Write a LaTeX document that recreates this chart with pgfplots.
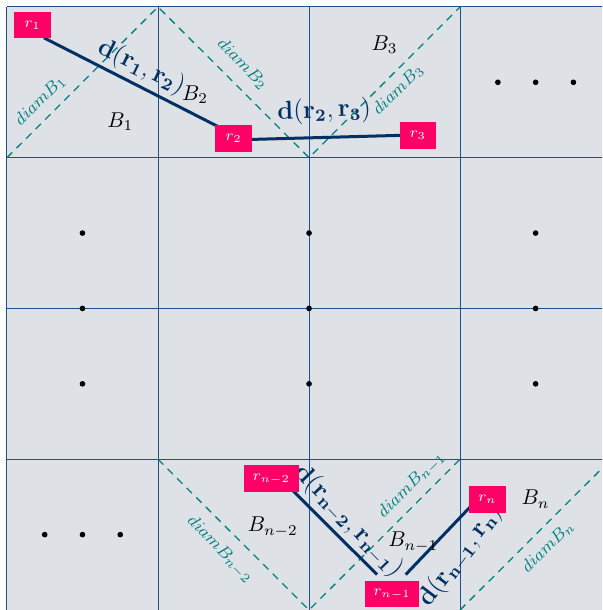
\documentclass[border=0pt]{standalone}
\usepackage{pgfplots}
\pgfplotsset{compat=1.18}
\definecolor{bg}{RGB}{222,226,230}
\definecolor{gridc}{RGB}{30,80,140}
\definecolor{diamc}{RGB}{0,128,128}
\definecolor{distc}{RGB}{0,48,100}
\definecolor{mag}{RGB}{255,0,102}
\begin{document}
\begin{tikzpicture}
\begin{axis}[
    name=ax,
    scale only axis,
    width=9.87cm, height=10cm,
    xmin=-0.046, xmax=3.94,
    ymin=0, ymax=4.046,
    hide axis,
  ]
  % background and grid
  \addplot[fill=bg, draw=none] coordinates {(0,0) (4,0) (4,4) (0,4) (0,0)};
  \addplot[gridc, line width=0.45pt, unbounded coords=jump] coordinates {
      (0,0) (0,4) (nan,nan)
      (1,0) (1,4) (nan,nan)
      (2,0) (2,4) (nan,nan)
      (3,0) (3,4) (nan,nan)
      (4,0) (4,4) (nan,nan)
      (0,0) (4,0) (nan,nan)
      (0,1) (4,1) (nan,nan)
      (0,2) (4,2) (nan,nan)
      (0,3) (4,3) (nan,nan)
      (0,4) (4,4)
    };
  % diameters
  \addplot[diamc, line width=0.6pt, dash pattern=on 3.5pt off 2.8pt, unbounded coords=jump] coordinates {
      (0,3) (1,4) (2,3) (3,4) (nan,nan)
      (1,1) (2,0) (3,1) (nan,nan)
      (3,0) (4,1)
    };
  % dots
  \addplot[only marks, mark=*, mark size=1.1pt, black] coordinates {
      (3.25,3.5) (3.5,3.5) (3.75,3.5)
      (0.5,2.5) (2,2.5) (3.5,2.5)
      (0.5,2) (2,2) (3.5,2)
      (0.5,1.5) (2,1.5) (3.5,1.5)
      (0.25,0.5) (0.5,0.5) (0.75,0.5)
    };
  % points
  \addplot[draw=none, mark=none, point meta=explicit symbolic,
      nodes near coords={$\pgfplotspointmeta$},
      nodes near coords align={center},
      every node near coord/.append style={anchor=center, fill=mag, text=white,
        font=\scriptsize, minimum height=12.5pt, minimum width=17pt,
        inner ysep=2pt, inner xsep=4pt}]
    coordinates {
      (0.17,3.88) [r_1]
      (1.50,3.126) [r_2]
      (2.72,3.146) [r_3]
      (1.75,0.87) [r_{n-2}]
      (2.55,0.106) [r_{n-1}]
      (3.18,0.735) [r_n]
    };
  % distances
  \addplot[distc, line width=1.4pt, unbounded coords=jump] coordinates {
      (0.245,3.795) (1.41,3.20) (nan,nan)
      (1.58,3.12) (2.67,3.15) (nan,nan)
      (1.854,0.83) (2.45,0.235) (nan,nan)
      (2.64,0.235) (3.106,0.725)
    };
  % labels
  \node[text=diamc, font=\footnotesize, rotate=45] at (axis cs:0.22,3.38) {$diam B_1$};
  \node[text=diamc, font=\footnotesize, rotate=-45] at (axis cs:1.56,3.62) {$diam B_2$};
  \node[text=diamc, font=\footnotesize, rotate=45] at (axis cs:2.59,3.45) {$diam B_3$};
  \node[text=diamc, font=\footnotesize, rotate=45] at (axis cs:2.68,0.83) {$diam B_{n-1}$};
  \node[text=diamc, font=\footnotesize, rotate=-45] at (axis cs:1.41,0.40) {$diam B_{n-2}$};
  \node[text=diamc, font=\footnotesize, rotate=45] at (axis cs:3.58,0.42) {$diam B_n$};
  \node at (axis cs:0.75,3.24) {$B_1$};
  \node at (axis cs:1.245,3.42) {$B_2$};
  \node at (axis cs:2.50,3.75) {$B_3$};
  \node at (axis cs:1.76,0.55) {$B_{n-2}$};
  \node at (axis cs:2.69,0.45) {$B_{n-1}$};
  \node at (axis cs:3.50,0.735) {$B_n$};
  \node[text=distc, font=\large, rotate=-26] at (axis cs:0.89,3.60) {$\mathbf{d(r_1,r_2)}$};
  \node[text=distc, font=\large, rotate=2] at (axis cs:2.10,3.31) {$\mathbf{d(r_2,r_3)}$};
  \node[text=distc, font=\large, rotate=-46] at (axis cs:2.26,0.59) {$\mathbf{d(r_{n-2},r_{n-1})}$};
  \node[text=distc, font=\large, rotate=53] at (axis cs:3.00,0.36) {$\mathbf{d(r_{n-1},r_n)}$};
\end{axis}
\pgfresetboundingbox
\useasboundingbox (ax.south west) rectangle (ax.north east);
\end{tikzpicture}
\end{document}
